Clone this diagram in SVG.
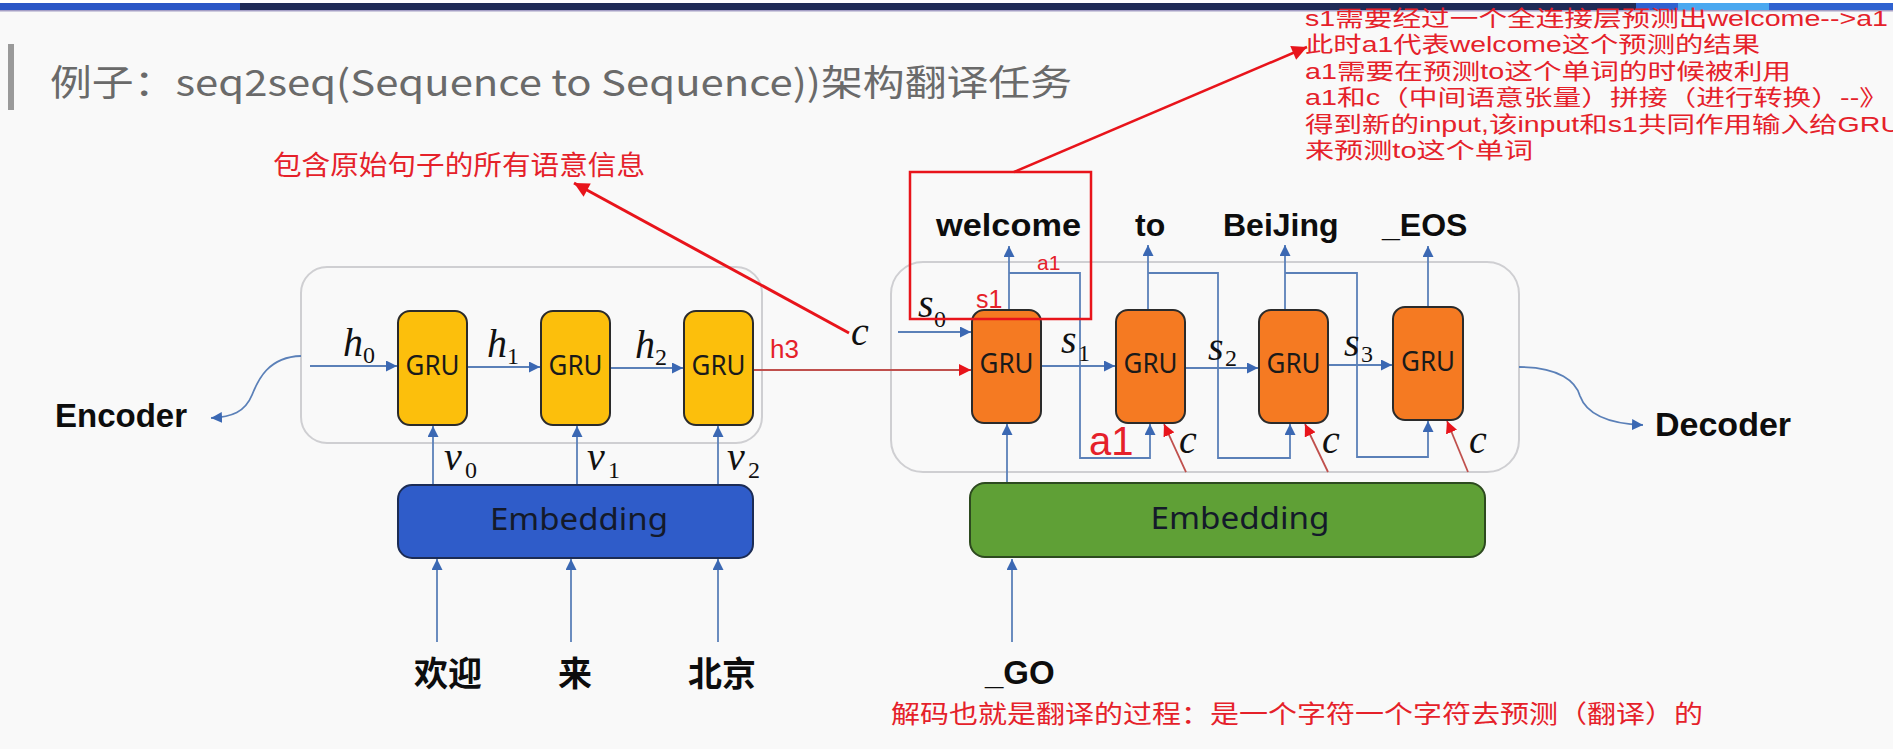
<svg xmlns="http://www.w3.org/2000/svg" width="1893" height="749" viewBox="0 0 1893 749">
<defs>
<marker id="ab" viewBox="0 0 10 10" refX="10" refY="5" markerWidth="11" markerHeight="11" markerUnits="userSpaceOnUse" orient="auto"><path d="M0,0 L10,5 L0,10 z" fill="#3b68b3"/></marker>
<marker id="ar" viewBox="0 0 10 10" refX="10" refY="5" markerWidth="12" markerHeight="12" markerUnits="userSpaceOnUse" orient="auto"><path d="M0,0 L10,5 L0,10 z" fill="#e8141b"/></marker>
<marker id="arb" viewBox="0 0 10 10" refX="10" refY="5" markerWidth="17" markerHeight="15" markerUnits="userSpaceOnUse" orient="auto"><path d="M0,0 L10,5 L0,10 z" fill="#e8141b"/></marker>
</defs>
<style>
.cont{fill:none;stroke:#cfcfd2;stroke-width:2}
.gy{fill:#fcbf0c;stroke:#2b2b2b;stroke-width:2}
.go{fill:#f57a22;stroke:#2b2b2b;stroke-width:2}
.gt{font-family:"Noto Sans",sans-serif;font-size:28px;fill:#1a1a1a;text-anchor:middle}
.et{font-family:"Noto Sans",sans-serif;font-size:31px;fill:#141a2a;text-anchor:middle}
.bl{fill:none;stroke:#5b80b8;stroke-width:1.8}
.rl{fill:none;stroke:#c0504d;stroke-width:1.8}
.m{font-family:"Liberation Serif",serif;font-style:italic;font-size:40px;fill:#111}
.sb{font-family:"Liberation Serif",serif;font-size:24px;fill:#111}
.bw{font-family:"Liberation Sans",Arial,sans-serif;font-weight:bold;fill:#0d0d0d}
.cj{font-family:"Noto Sans CJK SC",sans-serif;font-weight:bold;font-size:34px;fill:#0d0d0d;text-anchor:middle}
.rt{font-family:"Noto Sans CJK SC",sans-serif;fill:#e5212a}
.rn{font-family:"Liberation Sans","Noto Sans CJK SC",sans-serif;fill:#e5212a}
.rs{font-family:"Liberation Sans",Arial,sans-serif;fill:#e5212a}
</style>
<rect x="0" y="0" width="1893" height="749" fill="#f9f9f9"/>
<g id="topbar">
<rect x="0" y="0" width="1893" height="4" fill="#ffffff"/>
<rect x="0" y="3" width="1893" height="7" fill="#1f2b57"/>
<rect x="0" y="3" width="240" height="7" fill="#2a56c6"/>
<rect x="1636" y="3" width="257" height="7" fill="#2f62d0"/>
<rect x="1678" y="3" width="91" height="7" fill="#4aa8f0"/>
<rect x="0" y="10" width="1893" height="1.5" fill="#a59fc6"/>
</g>
<g id="title">
<rect x="8" y="44" width="6" height="66" fill="#9a9a9a"/>
<text x="50" y="96" font-family="'Noto Sans CJK SC',sans-serif" font-size="36" fill="#6a6a6a" textLength="1022" lengthAdjust="spacingAndGlyphs">例子：seq2seq(Sequence to Sequence))架构翻译任务</text>
</g>
<g id="encoder-container"><rect class="cont" x="301" y="267" width="461" height="176" rx="26"/></g>
<g id="decoder-container"><rect class="cont" x="891" y="262" width="628" height="210" rx="32"/></g>
<g id="connectors">
<path class="bl" d="M301,356 C268,357 258,380 252,395 C245,412 232,417 211,418" marker-end="url(#ab)"/>
<path class="bl" d="M1519,367 C1560,367 1576,382 1580,396 C1588,418 1615,424 1643,425" marker-end="url(#ab)"/>
<line class="bl" x1="310" y1="366" x2="397" y2="366" marker-end="url(#ab)"/>
<line class="bl" x1="467" y1="367" x2="540" y2="367" marker-end="url(#ab)"/>
<line class="bl" x1="610" y1="368" x2="683" y2="368" marker-end="url(#ab)"/>
<line class="bl" x1="433" y1="485" x2="433" y2="426" marker-end="url(#ab)"/>
<line class="bl" x1="577" y1="485" x2="577" y2="426" marker-end="url(#ab)"/>
<line class="bl" x1="718" y1="485" x2="718" y2="426" marker-end="url(#ab)"/>
<line class="bl" x1="437" y1="642" x2="437" y2="559" marker-end="url(#ab)"/>
<line class="bl" x1="571" y1="642" x2="571" y2="559" marker-end="url(#ab)"/>
<line class="bl" x1="718" y1="642" x2="718" y2="559" marker-end="url(#ab)"/>
<line class="rl" x1="753" y1="370" x2="971" y2="370" marker-end="url(#ar)"/>
<line class="bl" x1="898" y1="332" x2="971" y2="332" marker-end="url(#ab)"/>
<line class="bl" x1="1041" y1="366" x2="1115" y2="366" marker-end="url(#ab)"/>
<line class="bl" x1="1185" y1="368" x2="1258" y2="368" marker-end="url(#ab)"/>
<line class="bl" x1="1328" y1="365" x2="1392" y2="365" marker-end="url(#ab)"/>
<line class="bl" x1="1009" y1="310" x2="1009" y2="246" marker-end="url(#ab)"/>
<line class="bl" x1="1148" y1="310" x2="1148" y2="245" marker-end="url(#ab)"/>
<line class="bl" x1="1285" y1="310" x2="1285" y2="245" marker-end="url(#ab)"/>
<line class="bl" x1="1428" y1="307" x2="1428" y2="246" marker-end="url(#ab)"/>
<path class="bl" d="M1009,273 H1080 V458 H1150 V424" marker-end="url(#ab)"/>
<path class="bl" d="M1148,273 H1218 V458 H1290 V424" marker-end="url(#ab)"/>
<path class="bl" d="M1285,273 H1357 V457 H1428 V421" marker-end="url(#ab)"/>
<line class="bl" x1="1007" y1="483" x2="1007" y2="424" marker-end="url(#ab)"/>
<line class="bl" x1="1012" y1="642" x2="1012" y2="559" marker-end="url(#ab)"/>
<line class="rl" x1="1186" y1="472" x2="1164" y2="424" marker-end="url(#ar)"/>
<line class="rl" x1="1328" y1="472" x2="1305" y2="424" marker-end="url(#ar)"/>
<line class="rl" x1="1468" y1="472" x2="1447" y2="421" marker-end="url(#ar)"/>
<line x1="849" y1="333" x2="574" y2="183" stroke="#e8141b" stroke-width="3" marker-end="url(#arb)"/>
<line x1="1014" y1="172" x2="1307" y2="47" stroke="#e8141b" stroke-width="2.5" marker-end="url(#arb)"/>
</g>
<g id="enc-gru1"><rect class="gy" x="398" y="311" width="69" height="114" rx="12"/><text class="gt" x="432.5" y="375" textLength="54" lengthAdjust="spacingAndGlyphs">GRU</text></g>
<g id="enc-gru2"><rect class="gy" x="541" y="311" width="69" height="114" rx="12"/><text class="gt" x="575.5" y="375" textLength="54" lengthAdjust="spacingAndGlyphs">GRU</text></g>
<g id="enc-gru3"><rect class="gy" x="684" y="311" width="69" height="114" rx="12"/><text class="gt" x="718.5" y="375" textLength="54" lengthAdjust="spacingAndGlyphs">GRU</text></g>
<g id="dec-gru1"><rect class="go" x="972" y="310" width="69" height="113" rx="12"/><text class="gt" x="1006.5" y="373" textLength="54" lengthAdjust="spacingAndGlyphs">GRU</text></g>
<g id="dec-gru2"><rect class="go" x="1116" y="310" width="69" height="113" rx="12"/><text class="gt" x="1150.5" y="373" textLength="54" lengthAdjust="spacingAndGlyphs">GRU</text></g>
<g id="dec-gru3"><rect class="go" x="1259" y="310" width="69" height="113" rx="12"/><text class="gt" x="1293.5" y="373" textLength="54" lengthAdjust="spacingAndGlyphs">GRU</text></g>
<g id="dec-gru4"><rect class="go" x="1393" y="307" width="70" height="113" rx="12"/><text class="gt" x="1428" y="371" textLength="54" lengthAdjust="spacingAndGlyphs">GRU</text></g>
<g id="enc-embedding"><rect x="398" y="485" width="355" height="73" rx="14" fill="#2f5cc9" stroke="#1c2c55" stroke-width="2"/><text class="et" x="579" y="530" textLength="178" lengthAdjust="spacingAndGlyphs">Embedding</text></g>
<g id="dec-embedding"><rect x="970" y="483" width="515" height="74" rx="15" fill="#5fa036" stroke="#2d4a1f" stroke-width="2"/><text class="et" x="1240" y="529" textLength="179" lengthAdjust="spacingAndGlyphs">Embedding</text></g>
<g id="labels-math">
<text class="m" x="343" y="356">h</text><text class="sb" x="363" y="363">0</text>
<text class="m" x="487" y="357">h</text><text class="sb" x="507" y="364">1</text>
<text class="m" x="635" y="358">h</text><text class="sb" x="655" y="365">2</text>
<text class="m" x="444" y="470">v</text><text class="sb" x="465" y="478">0</text>
<text class="m" x="587" y="470">v</text><text class="sb" x="608" y="478">1</text>
<text class="m" x="727" y="470">v</text><text class="sb" x="748" y="478">2</text>
<text class="m" x="851" y="345">c</text>
<text class="m" x="918" y="317" font-size="36">s</text><text class="sb" x="934" y="327">0</text>
<text class="m" x="1061" y="353" font-size="36">s</text><text class="sb" x="1078" y="361">1</text>
<text class="m" x="1208" y="360" font-size="36">s</text><text class="sb" x="1225" y="366">2</text>
<text class="m" x="1344" y="356" font-size="36">s</text><text class="sb" x="1361" y="362">3</text>
<text class="m" x="1179" y="453" font-size="38">c</text>
<text class="m" x="1322" y="453" font-size="38">c</text>
<text class="m" x="1469" y="453" font-size="38">c</text>
</g>
<g id="words">
<text class="bw" x="55" y="427" font-size="33">Encoder</text>
<text class="bw" x="1655" y="436" font-size="34">Decoder</text>
<text class="bw" x="936" y="236" font-size="32" textLength="145" lengthAdjust="spacingAndGlyphs">welcome</text>
<text class="bw" x="1135" y="236" font-size="32">to</text>
<text class="bw" x="1223" y="236" font-size="32">BeiJing</text>
<text class="bw" x="1382" y="236" font-size="32">_EOS</text>
<text class="bw" x="985" y="684" font-size="33">_GO</text>
<text class="cj" x="448" y="686">欢迎</text>
<text class="cj" x="575" y="686">来</text>
<text class="cj" x="722" y="686">北京</text>
</g>
<g id="annotations">
<rect x="910" y="172" width="181" height="147" fill="none" stroke="#e8141b" stroke-width="2.5"/>
<text class="rs" x="770" y="358" font-size="26">h3</text>
<text class="rs" x="1037" y="270" font-size="21">a1</text>
<text class="rs" x="976" y="308" font-size="25">s1</text>
<text class="rs" x="1089" y="455" font-size="40">a1</text>
<text class="rt" x="273" y="175" font-size="27" textLength="372" lengthAdjust="spacingAndGlyphs">包含原始句子的所有语意信息</text>
<text class="rt" x="891" y="723" font-size="25" textLength="812" lengthAdjust="spacingAndGlyphs">解码也就是翻译的过程：是一个字符一个字符去预测（翻译）的</text>
<g font-size="22">
<text class="rn" x="1305" y="26" textLength="583" lengthAdjust="spacingAndGlyphs">s1需要经过一个全连接层预测出welcome--&gt;a1</text>
<text class="rn" x="1305" y="52" textLength="455" lengthAdjust="spacingAndGlyphs">此时a1代表welcome这个预测的结果</text>
<text class="rn" x="1305" y="79" textLength="486" lengthAdjust="spacingAndGlyphs">a1需要在预测to这个单词的时候被利用</text>
<text class="rn" x="1305" y="105" textLength="583" lengthAdjust="spacingAndGlyphs">a1和c（中间语意张量）拼接（进行转换）--》</text>
<text class="rn" x="1305" y="132" textLength="596" lengthAdjust="spacingAndGlyphs">得到新的input,该input和s1共同作用输入给GRU</text>
<text class="rn" x="1305" y="158" textLength="228" lengthAdjust="spacingAndGlyphs">来预测to这个单词</text>
</g>
</g>
</svg>
